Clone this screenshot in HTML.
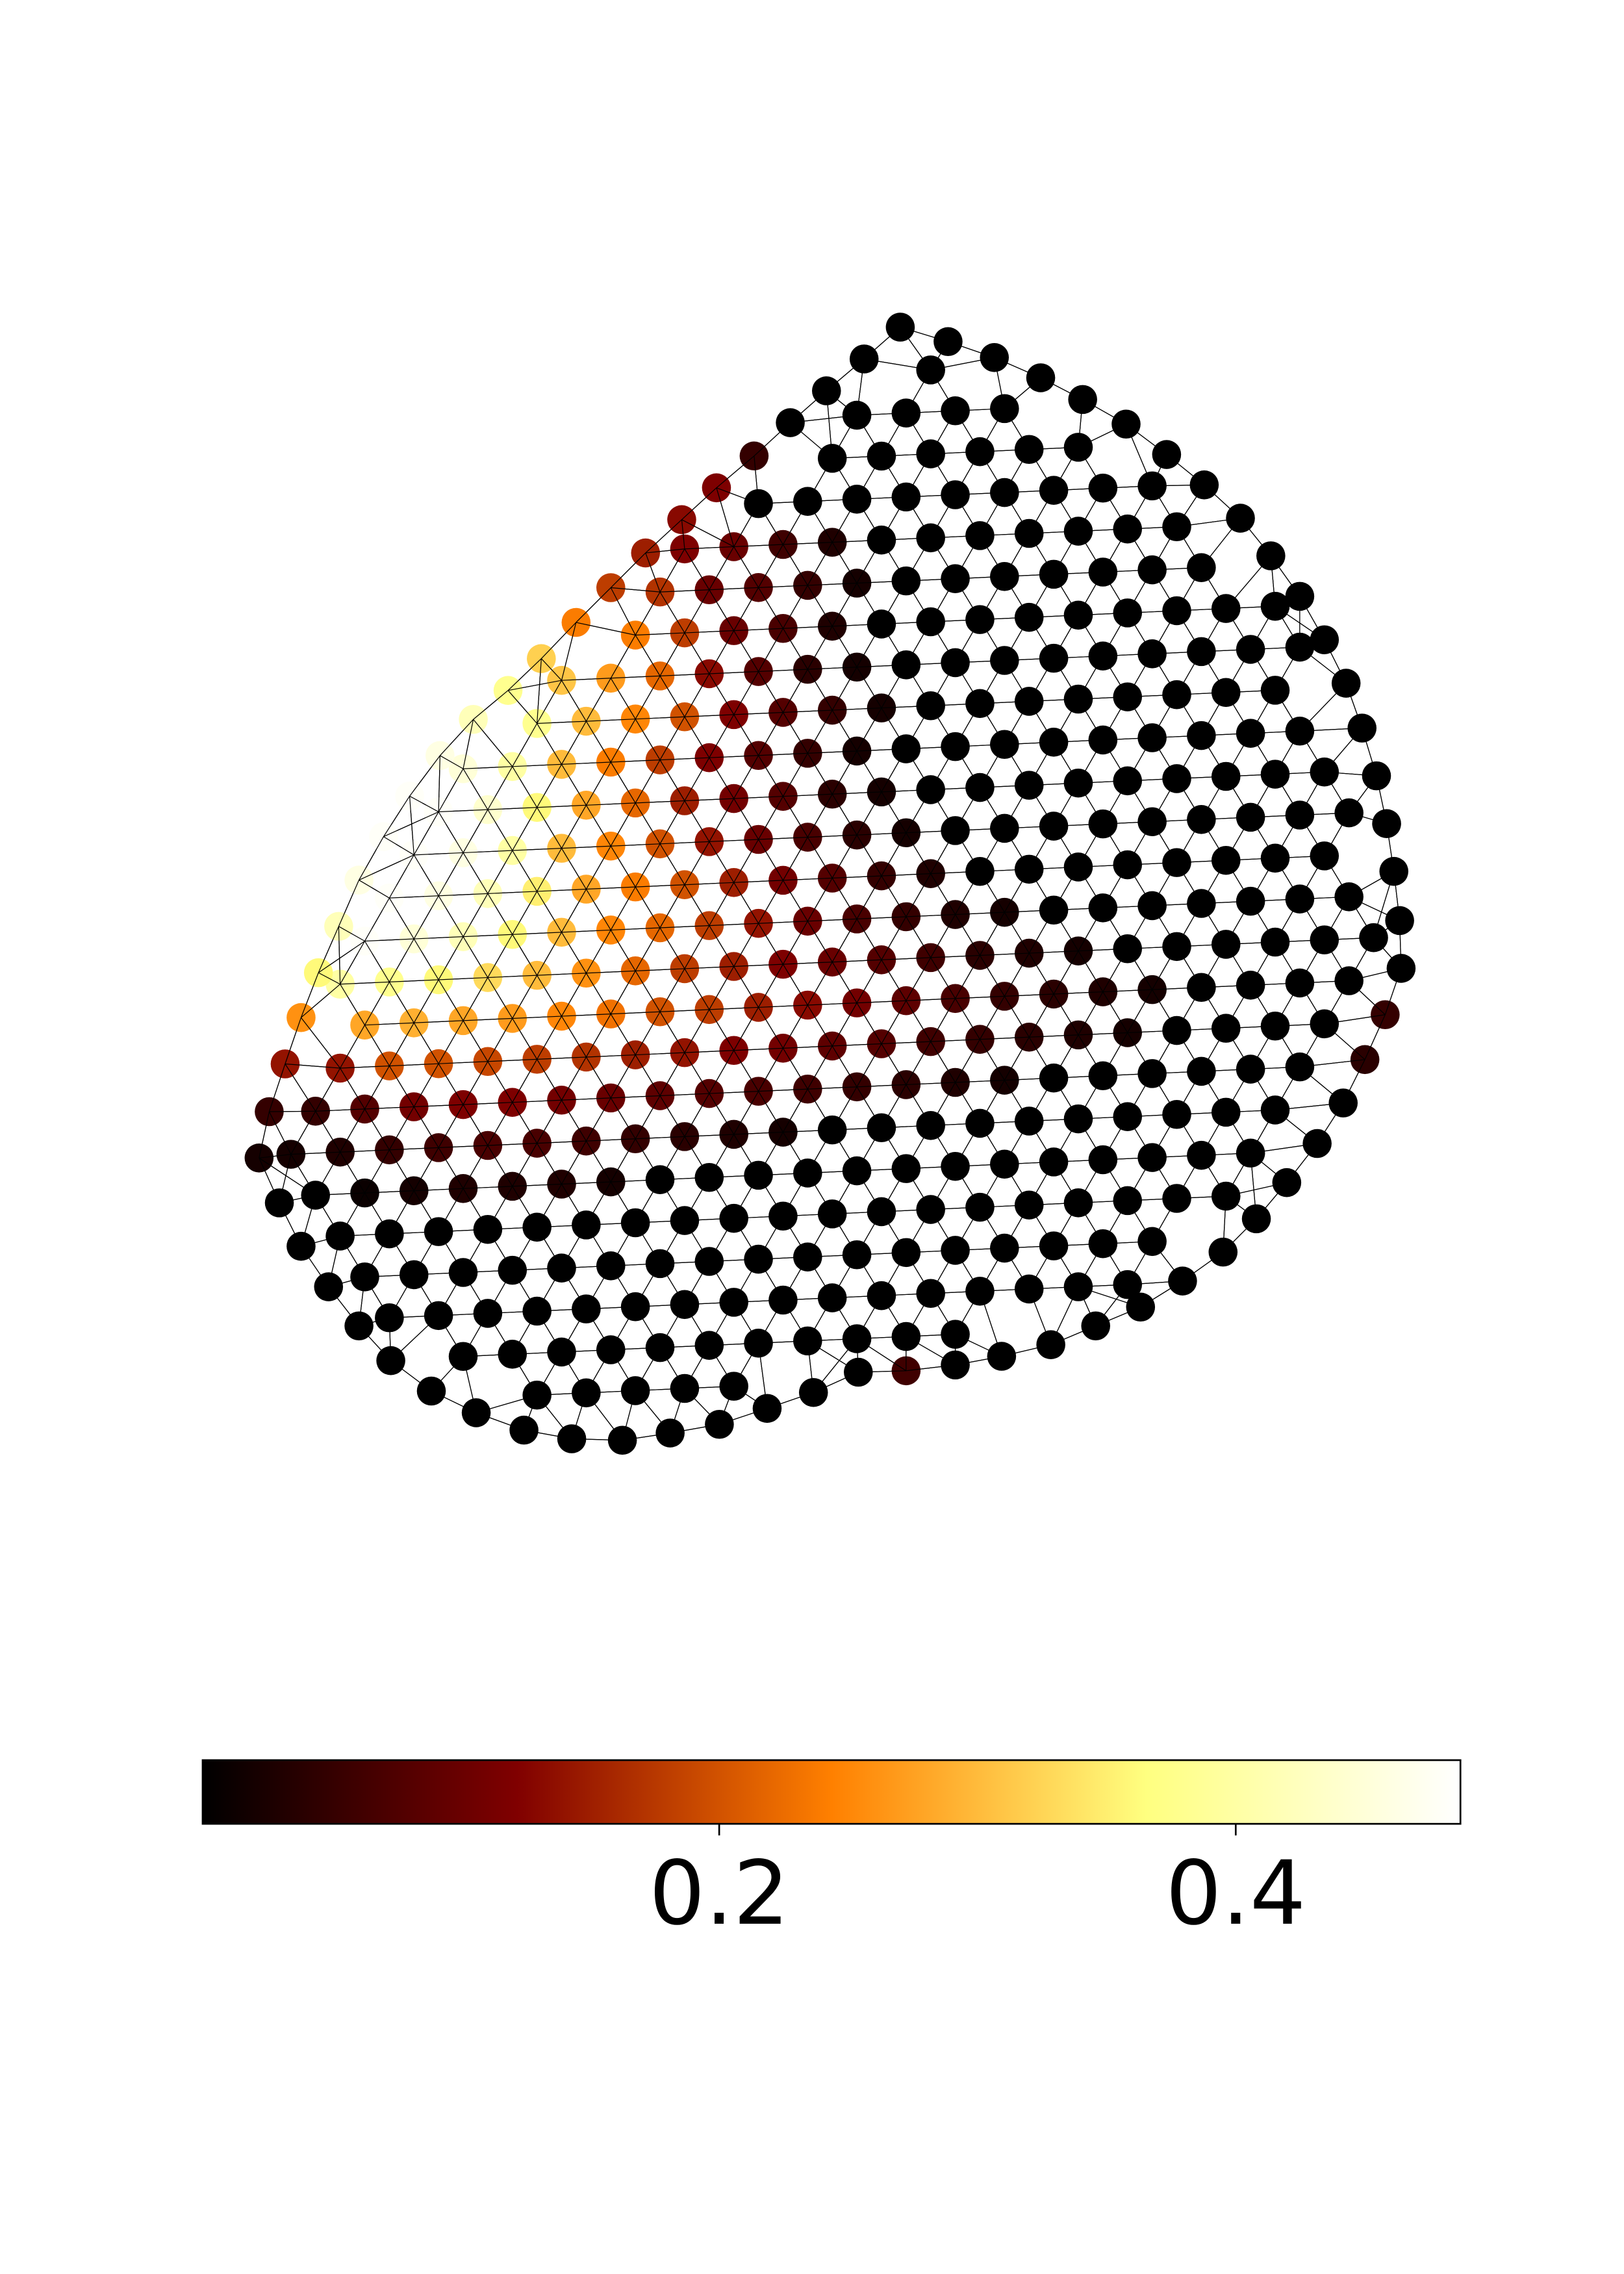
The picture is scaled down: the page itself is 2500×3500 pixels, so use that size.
<!DOCTYPE html>
<html><head><meta charset="utf-8"><style>html,body{margin:0;padding:0;background:#fff}svg{display:block}</style></head>
<body>
<svg id="chart" width="2500" height="3500" viewBox="0 0 1122 1571" preserveAspectRatio="none" xmlns="http://www.w3.org/2000/svg">
<defs>
<linearGradient id="afm" x1="0" x2="1" y1="0" y2="0">
<stop offset="0" stop-color="#000000"/><stop offset="0.25" stop-color="#800000"/><stop offset="0.5" stop-color="#ff8000"/><stop offset="0.75" stop-color="#ffff80"/><stop offset="1" stop-color="#ffffff"/>
</linearGradient>
</defs>
<g id="edges"></g>
<g id="nodes"></g>
<g>
<rect x="140" y="1216" width="869" height="44" fill="url(#afm)" stroke="#000" stroke-width="1.2"/>
<g id="cbticks"></g>
</g>
</svg>
<script>
// colour scale domain
const vMin = 0, vMax = 0.487;
const cbTicks = [0.2, 0.4];
const cbTickLabels = ["0.2", "0.4"];
// outline (boundary nodes), clockwise from top
const outlineX = [622,655,687,719,748,778,806,832,857,878,898,915,930,941,951,958,963,967,968,957,943,928,910,889,868,845,817,788,757,726,692,660,626,593,562,530,497,463,430,395,362,329,298,270,248,227,208,193,179,186,197,208,220,234,248,265,283,304,327,351,374,398,422,446,471,495,521,546,571,597];
const outlineY = [226,236,247,261,276,293,314,335,358,384,412,442,472,503,536,569,602,636,669,701,732,762,790,817,842,865,885,903,916,929,937,943,947,948,962,973,984,990,995,994,988,976,961,940,916,889,861,831,800,768,735,703,672,640,608,578,550,522,497,477,455,430,406,382,359,337,315,292,270,248];
const outlineValues = [0,0,0,0,0,0,0,0,0,0,0,0,0,0,0,0,0,0,0,0.05,0.04,0,0,0,0,0,0,0,0,0,0,0,0.06,0,0,0,0,0,0,0,0,0,0,0,0,0,0,0,0.02,0.05,0.14,0.26,0.36,0.42,0.46,0.48,0.48,0.46,0.42,0.38,0.32,0.24,0.18,0.15,0.13,0.12,0.05,0,0,0];
// interior lattice values per row (leading nodes from left; rest = 0)
const rowValues = {
 5:[0.12,0.10,0.06,0.03],
 6:[0.17,0.10,0.08,0.05,0.02],
 7:[0.24,0.18,0.10,0.07,0.03],
 8:[0.31,0.27,0.22,0.13,0.08,0.04,0.02],
 9:[0.38,0.30,0.25,0.20,0.12,0.08,0.05,0.02],
 10:[0.45,0.40,0.30,0.24,0.18,0.12,0.08,0.05,0.02],
 11:[0.48,0.44,0.36,0.28,0.22,0.15,0.11,0.08,0.04,0.02],
 12:[0.48,0.46,0.40,0.30,0.25,0.20,0.14,0.10,0.07,0.04,0.02],
 13:[0.48,0.46,0.42,0.35,0.28,0.24,0.20,0.15,0.11,0.08,0.05,0.03],
 14:[0.48,0.45,0.42,0.36,0.30,0.25,0.22,0.18,0.14,0.10,0.07,0.05,0.03,0.02],
 15:[0.40,0.38,0.36,0.33,0.30,0.26,0.22,0.18,0.15,0.12,0.10,0.08,0.06,0.04,0.03,0.02],
 16:[0.28,0.29,0.28,0.27,0.25,0.23,0.20,0.18,0.15,0.13,0.11,0.09,0.07,0.05,0.04,0.03,0.02],
 17:[0.14,0.20,0.20,0.19,0.18,0.17,0.15,0.14,0.12,0.11,0.09,0.08,0.06,0.05,0.04,0.03,0.02],
 18:[0.05,0.08,0.11,0.12,0.12,0.11,0.10,0.09,0.08,0.07,0.06,0.05,0.04,0.03,0.02],
 19:[0.02,0.03,0.05,0.06,0.07,0.07,0.06,0.05,0.04,0.03,0.02],
 20:[0,0.01,0.02,0.03,0.03,0.03,0.02]
};

const NS = "http://www.w3.org/2000/svg";
function colorOf(v){
  const t = Math.max(0, Math.min(1, (v - vMin) / (vMax - vMin)));
  const c = x => Math.round(255 * Math.max(0, Math.min(1, x)));
  return `rgb(${c(2*t)},${c(2*t-0.5)},${c(2*t-1)})`;
}
function cbX(v){ return 140 + (v - vMin) / (vMax - vMin) * 869; }
function inside(x,y){
  let ins=false;
  for(let i=0,j=outlineX.length-1;i<outlineX.length;j=i++){
    const xi=outlineX[i],yi=outlineY[i],xj=outlineX[j],yj=outlineY[j];
    if(((yi>y)!=(yj>y)) && (x < (xj-xi)*(y-yi)/(yj-yi)+xi)) ins=!ins;
  }
  return ins;
}
function distBoundary(x,y){
  let m=1e9;
  for(let i=0;i<outlineX.length;i++){
    const j=(i+1)%outlineX.length;
    const ax=outlineX[i],ay=outlineY[i],bx=outlineX[j],by=outlineY[j];
    const dx=bx-ax,dy=by-ay; let t=((x-ax)*dx+(y-ay)*dy)/(dx*dx+dy*dy);
    t=Math.max(0,Math.min(1,t));
    m=Math.min(m,Math.hypot(x-ax-t*dx,y-ay-t*dy));
  }
  return m;
}
// lattice geometry
const DX=34, DY=29, SLOPE=0.045;
const lattice={};
const nodes=[];
for(let r=0;r<28;r++){
  let k=0;
  for(let c=0;c<30;c++){
    const x=150+DX*c+(r%2?DX/2:0);
    const y=246.5+DY*r-SLOPE*(x-200);
    if(inside(x,y)&&distBoundary(x,y)>16){
      const vals=rowValues[r]||[];
      const v=k<vals.length?vals[k]:0;
      k++;
      const n={x,y,v};
      lattice[r+","+c]=n; nodes.push(n);
    }
  }
}
const eg=document.getElementById("edges");
function line(a,b){
  const l=document.createElementNS(NS,"line");
  
  
  l.setAttribute("x1",a.x);l.setAttribute("y1",a.y);l.setAttribute("x2",b.x);l.setAttribute("y2",b.y);
  l.setAttribute("stroke","#000");l.setAttribute("stroke-width","0.55");
  eg.appendChild(l);
}
for(const key in lattice){
  const [r,c]=key.split(",").map(Number);
  const a=lattice[key];
  const nb=[[r,c+1]];
  if(r%2){nb.push([r+1,c],[r+1,c+1]);}else{nb.push([r+1,c-1],[r+1,c]);}
  nb.forEach(([rr,cc])=>{const b=lattice[rr+","+cc]; if(b) line(a,b);});
}
const bnodes=outlineX.map((x,i)=>({x,y:outlineY[i],v:outlineValues[i]}));
bnodes.forEach((b,i)=>{
  line(b,bnodes[(i+1)%bnodes.length]);
  const near=nodes.map(n=>[Math.hypot(n.x-b.x,n.y-b.y),n]).sort((p,q)=>p[0]-q[0]);
  for(let q=0;q<2&&q<near.length;q++) if(near[q][0]<48) line(b,near[q][1]);
});
const ng=document.getElementById("nodes");
nodes.concat(bnodes).forEach(n=>{
  const ci=document.createElementNS(NS,"circle");
  
  
  ci.setAttribute("cx",n.x);ci.setAttribute("cy",n.y);ci.setAttribute("r","10");
  ci.setAttribute("fill",colorOf(n.v));
  ng.appendChild(ci);
});
ng.parentNode.appendChild(eg.cloneNode(true));
const tg=document.getElementById("cbticks");
cbTicks.forEach((t,i)=>{
  const x=cbX(t);
  const l=document.createElementNS(NS,"line");
  
  
  l.setAttribute("x1",x);l.setAttribute("x2",x);l.setAttribute("y1",1260);l.setAttribute("y2",1268);
  l.setAttribute("stroke","#000");l.setAttribute("stroke-width","1.2");
  tg.appendChild(l);
  const tx=document.createElementNS(NS,"text");
  
  
  tx.setAttribute("x",x);tx.setAttribute("y",1329);tx.setAttribute("text-anchor","middle");
  tx.setAttribute("font-family","'DejaVu Sans', 'Liberation Sans', sans-serif");tx.setAttribute("font-size","61");
  tx.textContent=cbTickLabels[i];
  tg.appendChild(tx);
});
</script>
</body></html>
